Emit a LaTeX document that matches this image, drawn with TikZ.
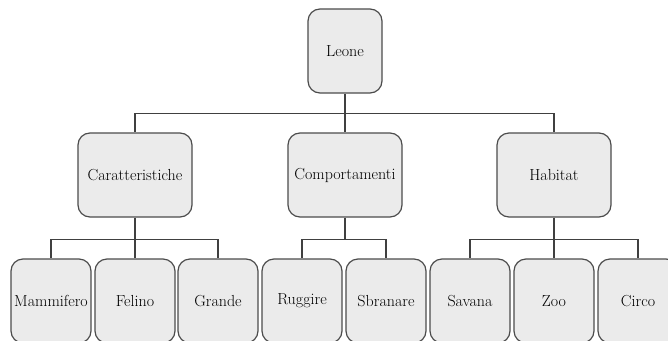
\documentclass[tikz,border=0pt]{standalone}
\usepackage{fontspec}
\begin{document}
\begin{tikzpicture}[x=1pt,y=1pt,
		box/.style={draw=black!70,line width=1.2pt,fill=black!8,rounded corners=12pt,minimum height=84pt,inner sep=1pt,font=\rmfamily\fontsize{16}{19}\selectfont},
		link/.style={draw=black!75,line width=1.4pt}]
				\useasboundingbox (0,0) rectangle (668,-340);
				\node[box,minimum width=74pt] (leone) at (345,-51) {Leone};
				\node[box,minimum width=114pt] (car) at (135,-175) {Caratteristiche};
				\node[box,minimum width=114pt] (comp) at (345,-175) {Comportamenti};
				\node[box,minimum width=114pt] (hab) at (554,-175) {Habitat};
				\node[box,minimum width=80pt] (mam) at (51,-301) {Mammifero};
				\node[box,minimum width=80pt] (fel) at (135,-301) {Felino};
				\node[box,minimum width=80pt] (gra) at (218,-301) {Grande};
				\node[box,minimum width=80pt] (rug) at (302,-301) {Ruggire};
				\node[box,minimum width=80pt] (sbr) at (386,-301) {Sbranare};
				\node[box,minimum width=80pt] (sav) at (470,-301) {Savana};
				\node[box,minimum width=80pt] (zoo) at (554,-301) {Zoo};
				\node[box,minimum width=80pt] (cir) at (638,-301) {Circo};
				\draw[link] (leone.south) -- (comp.north);
				\draw[link] (leone.south) ++(0,-20) -| (car.north);
				\draw[link] (leone.south) ++(0,-20) -| (hab.north);
				\draw[link] (car.south) -- (fel.north);
				\draw[link] (car.south) ++(0,-22) -| (mam.north);
				\draw[link] (car.south) ++(0,-22) -| (gra.north);
				\draw[link] (comp.south) -- ++(0,-22) -| (rug.north);
				\draw[link] (comp.south) ++(0,-22) -| (sbr.north);
				\draw[link] (hab.south) -- (zoo.north);
				\draw[link] (hab.south) ++(0,-22) -| (sav.north);
				\draw[link] (hab.south) ++(0,-22) -| (cir.north);
			\end{tikzpicture}
\end{document}
